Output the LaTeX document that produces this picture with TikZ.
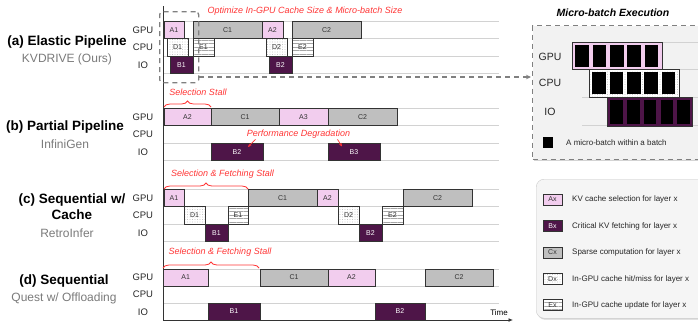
\documentclass[tikz,border=0pt]{standalone}
\usepackage{fontspec}
\setmainfont{Liberation Sans}
\usetikzlibrary{patterns.meta,decorations.pathreplacing,shadows,arrows.meta,calc}

\definecolor{selpink}{HTML}{F2CDEE}
\definecolor{fetchpur}{HTML}{4E1548}
\definecolor{compgray}{HTML}{BFBFBF}
\definecolor{stallred}{HTML}{FF3535}
\definecolor{gridgray}{HTML}{D2D2D2}
\definecolor{boxline}{HTML}{333333}
\definecolor{subgray}{HTML}{7A7A7A}
\definecolor{dashgray}{HTML}{808080}
\definecolor{panelfill}{HTML}{F2F2F2}
\definecolor{legfill}{HTML}{F5F5F5}

\newcommand\tb[7]{\node[#2, anchor=north west, minimum width=#5pt-#3pt, minimum height=#6pt-#4pt] (#1) at (#3,#4) {#7};}

\tikzset{
  tbase/.style={draw=boxline, line width=0.8pt, inner sep=0pt, outer sep=0pt,
    font=\fontsize{7}{8}\selectfont, text=boxline},
  abox/.style={tbase, fill=selpink},
  bbox/.style={tbase, fill=fetchpur, text=white},
  cbox/.style={tbase, fill=compgray},
  dbox/.style={tbase, preaction={fill=white}, pattern={Dots[distance=2.5pt, radius=0.3pt]}, pattern color=black!35},
  ebox/.style={tbase, preaction={fill=white}, pattern={Lines[angle=0, distance=3.5pt, line width=0.3pt]}, pattern color=black!35},
  gridline/.style={draw=gridgray, line width=0.8pt},
  rowlab/.style={font=\fontsize{9.5}{11}\selectfont, text=black!85, inner sep=0pt},
  sectitle/.style={font=\bfseries\fontsize{13.5}{16}\selectfont, align=center, inner sep=0pt},
  secsub/.style={font=\fontsize{12}{14}\selectfont, text=subgray, inner sep=0pt},
  redtxt/.style={font=\itshape\fontsize{9}{10}\selectfont, text=stallred, inner sep=0pt},
  redbrace/.style={draw=stallred, line width=0.8pt, decorate, decoration={brace, amplitude=6pt}},
  redarrow/.style={draw=stallred, line width=0.7pt, -{Stealth[length=3.5pt, width=3pt]}},
  dashbox/.style={draw=dashgray, line width=1.3pt, dash pattern=on 5pt off 4pt},
  mbsq/.style={fill=black, draw=none, inner sep=0pt, minimum width=13.5pt, minimum height=22pt},
  mblab/.style={font=\fontsize{10.5}{12}\selectfont, text=black!85, inner sep=0pt},
  legtxt/.style={font=\fontsize{8}{9}\selectfont, text=black!85, inner sep=0pt, anchor=west},
  legbox/.style={tbase, font=\fontsize{6.5}{7}\selectfont, minimum width=19pt, minimum height=11pt},
}

\begin{document}
\begin{tikzpicture}[x=1pt,y=-1pt]
\useasboundingbox (0,0) rectangle (698,327);

% ---------- grid lines ----------
\foreach \yy in {21,38.5,56,73.5,108,125.5,143,160.5,189,206.5,224,241.5,269,286,303}
  \draw[gridline] (163,\yy) -- (499,\yy);

% ---------- axis ----------
\coordinate (axtop) at (163,6);
\coordinate (axcorner) at (163,320);
\coordinate (axend) at (513,320);
\draw[boxline, line width=1pt, -{Latex[length=4.5pt, width=4pt]}] (axtop) -- (axcorner) -- (axend);
\node[font=\fontsize{8}{9}\selectfont, inner sep=0pt] (timelab) at (499,313) {Time};

% ---------- section labels ----------
\node[sectitle] (ta) at (67,42) {(a) Elastic Pipeline};
\node[secsub] (sa) at (67,59) {KVDRIVE (Ours)};
\node[sectitle] (tb) at (65,127) {(b) Partial Pipeline};
\node[secsub] (sb) at (65,144) {InfiniGen};
\node[sectitle] (tc) at (72,207) {(c) Sequential w/\\Cache};
\node[secsub] (sc) at (67,233) {RetroInfer};
\node[sectitle] (td) at (64,281) {(d) Sequential};
\node[secsub] (sd) at (64,298) {Quest w/ Offloading};

% ---------- row labels ----------
\foreach \nm/\yg in {a/30, b/117, c/198, d/277} {
  \node[rowlab] (gpu\nm) at (143,\yg) {GPU};
  \node[rowlab] (cpu\nm) at (143,\yg+17.3) {CPU};
  \node[rowlab] (io\nm) at (143,\yg+35) {IO};
}

% ---------- (a) Elastic pipeline ----------
\tb{aa1}{abox}{164}{21}{184}{38.5}{A1}
\tb{ac1}{cbox}{193}{21}{262}{38.5}{C1}
\tb{aa2}{abox}{262}{21}{283}{38.5}{A2}
\tb{ac2}{cbox}{292}{21}{361}{38.5}{C2}
\tb{ad1}{dbox}{167}{38.5}{188}{56}{D1}
\tb{ae1}{ebox}{193}{38.5}{214}{56}{E1}
\tb{ad2}{dbox}{266}{38.5}{287}{56}{D2}
\tb{ae2}{ebox}{292}{38.5}{313}{56}{E2}
\tb{ab1}{bbox}{170}{56}{193}{73.5}{B1}
\tb{ab2}{bbox}{269}{56}{292}{73.5}{B2}

\node[redtxt] (opt) at (305,11) {Optimize In-GPU Cache Size \& Micro-batch Size};

% dashed selection box and arrow to panel
\node[dashbox, rounded corners=3pt, anchor=north west, minimum width=39pt, minimum height=71pt, inner sep=0pt] (selbox) at (159,11) {};

% ---------- (b) Partial pipeline ----------
\tb{ba2}{abox}{164}{108}{211}{125.5}{A2}
\tb{bc1}{cbox}{211}{108}{279}{125.5}{C1}
\tb{ba3}{abox}{279}{108}{328}{125.5}{A3}
\tb{bc2}{cbox}{328}{108}{397}{125.5}{C2}
\tb{bb2}{bbox}{211}{143}{263}{160.5}{B2}
\tb{bb3}{bbox}{328}{143}{380}{160.5}{B3}
\node[redtxt] (stallb) at (198,92) {Selection Stall};
\draw[redbrace] (164,107) -- (211,107);
\node[redtxt] (perf) at (298.5,134) {Performance Degradation};
\draw[redarrow] ([xshift=-43pt, yshift=-1pt]perf.south) -- ([shift={(-15,4)}]bb2.north east);
\draw[redarrow] ([xshift=39pt, yshift=-1pt]perf.south) -- ([shift={(14,3.5)}]bb3.north west);

% ---------- (c) Sequential w/ cache ----------
\tb{ca1}{abox}{164}{189}{184}{206.5}{A1}
\tb{cc1}{cbox}{248}{189}{317}{206.5}{C1}
\tb{ca2}{abox}{317}{189}{338}{206.5}{A2}
\tb{cc2}{cbox}{403}{189}{472}{206.5}{C2}
\tb{cd1}{dbox}{184}{206.5}{205}{224}{D1}
\tb{ce1}{ebox}{228}{206.5}{248}{224}{E1}
\tb{cd2}{dbox}{338}{206.5}{359}{224}{D2}
\tb{ce2}{ebox}{382}{206.5}{403}{224}{E2}
\tb{cb1}{bbox}{205}{224}{228}{241.5}{B1}
\tb{cb2}{bbox}{359}{224}{382}{241.5}{B2}
\node[redtxt] (stallc) at (222.5,174) {Selection \& Fetching Stall};
\draw[redbrace] (164,189) -- (248,189);

% ---------- (d) Sequential ----------
\tb{da1}{abox}{163.5}{269}{208}{286}{A1}
\tb{dc1}{cbox}{260}{269}{328}{286}{C1}
\tb{da2}{abox}{328}{269}{375}{286}{A2}
\tb{dc2}{cbox}{425}{269}{493}{286}{C2}
\tb{db1}{bbox}{208}{303}{260}{320}{B1}
\tb{db2}{bbox}{375}{303}{425}{320}{B2}
\node[redtxt] (stalld) at (220,252) {Selection \& Fetching Stall};
\draw[redbrace] (163,268) -- (259,268);

% ---------- micro-batch panel ----------
\node[font=\bfseries\itshape\fontsize{10.5}{12}\selectfont, inner sep=0pt] (mbtitle) at (613,13) {Micro-batch Execution};
\node[dashbox, fill=panelfill, anchor=north west, minimum width=176pt, minimum height=134pt, inner sep=0pt,
      drop shadow={shadow xshift=1pt, shadow yshift=-1.5pt, opacity=0.35}] (mbpanel) at (532,25) {};
\coordinate (dashy) at (0,77);
\draw[dashbox, -{Stealth[length=5pt, width=4.5pt]}] (selbox.east |- dashy) -- ([xshift=-1pt]mbpanel.west |- dashy);

\foreach \yy in {42,69,97,125} \draw[gridline] (582,\yy) -- (698,\yy);
\node[mblab] (mbgpu) at (550,57) {GPU};
\node[mblab] (mbcpu) at (550,83) {CPU};
\node[mblab] (mbio) at (550,112) {IO};

\tb{mbg}{abox}{572}{42}{662}{69}{}
\tb{mbc}{dbox}{589}{69}{679}{97}{}
\tb{mbi}{bbox}{607}{97}{692}{126}{}
\foreach \k in {0,...,4} {
  \node[mbsq, anchor=north west] (gsq\k) at (575+17.4*\k,44.5) {};
  \node[mbsq, anchor=north west] (csq\k) at (592+17.4*\k,71.5) {};
  \node[mbsq, anchor=north west, minimum width=12.5pt, minimum height=23.5pt] (isq\k) at (610+16.8*\k,99.8) {};
}
\node[fill=black, inner sep=0pt, minimum width=10pt, minimum height=11pt, anchor=north west] (mbkey) at (543,137) {};
\node[legtxt] (mbkeytxt) at (566,142.5) {A micro-batch within a batch};

% ---------- legend ----------
\node[draw=black!20, fill=legfill, rounded corners=8pt, anchor=north west, minimum width=180pt, minimum height=139pt, inner sep=0pt,
      drop shadow={shadow xshift=1pt, shadow yshift=-1.5pt, opacity=0.35}] (legend) at (536,179) {};
\node[legbox, abox] (lega) at (552.5,199.5) {Ax};
\node[legtxt] (legatxt) at (572,199.5) {KV cache selection for layer x};
\node[legbox, bbox] (legb) at (552.5,226) {Bx};
\node[legtxt] (legbtxt) at (572,226) {Critical KV fetching for layer x};
\node[legbox, cbox] (legc) at (552.5,252.5) {Cx};
\node[legtxt] (legctxt) at (572,252.5) {Sparse computation for layer x};
\node[legbox, dbox] (legd) at (552.5,279) {Dx};
\node[legtxt] (legdtxt) at (572,279) {In-GPU cache hit/miss for layer x};
\node[legbox, ebox] (lege) at (552.5,305) {Ex};
\node[legtxt] (legetxt) at (572,305) {In-GPU cache update for layer x};

\end{tikzpicture}
\end{document}
